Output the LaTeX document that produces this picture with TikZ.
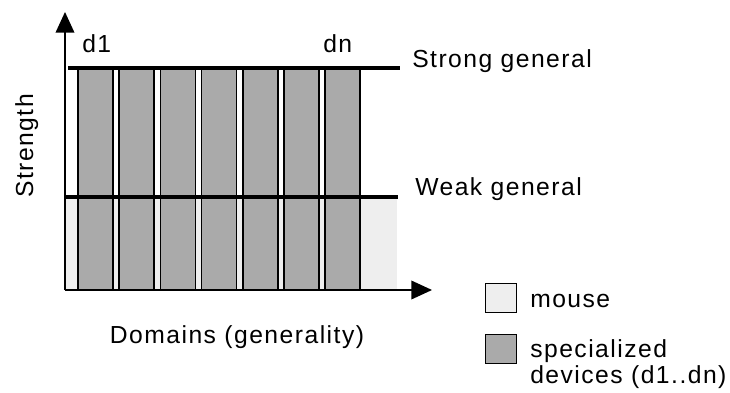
\documentclass[tikz,border=0pt]{standalone}
\usepackage{fontspec}
\setmainfont{Liberation Sans}[LetterSpace=6]
\usetikzlibrary{arrows.meta}
\definecolor{mouseC}{HTML}{EEEEEE}
\definecolor{devC}{HTML}{AAAAAA}
\tikzset{
  lbl/.style={inner sep=0pt, font=\fontsize{18.5pt}{22pt}\selectfont},
  axisline/.style={line width=1.1pt, -{Triangle[length=15.5pt,width=14pt]}},
  genline/.style={line width=2.3pt},
  devbar/.style={fill=devC, draw=black, line width=1.1pt},
  mousefill/.style={fill=mouseC, draw=none},
  legbox/.style={draw=black, line width=1.1pt, minimum width=23pt, minimum height=21.5pt, inner sep=0pt}
}
\begin{document}
\begin{tikzpicture}[x=0.75pt,y=-0.75pt]
\useasboundingbox (0,0) rectangle (730,392);
% mouse region
\fill[mousefill] (65,197) rectangle (397,290);
% device bars
\foreach \i in {0,...,6} {
  \draw[devbar] ({78+41.2*\i},68) rectangle ({113+41.2*\i},290);
}
% general lines
\coordinate (sg0) at (68,68);
\coordinate (sg1) at (400,68);
\coordinate (wg0) at (65,197);
\coordinate (wg1) at (398,197);
\draw[genline] (sg0) -- (sg1);
\draw[genline] (wg0) -- (wg1);
% axes
\coordinate (O) at (65,290);
\coordinate (ytip) at (65,12);
\coordinate (xtip) at (432,290);
\draw[axisline] (O) -- (ytip);
\draw[axisline] (O) -- (xtip);
% labels
\node[lbl, anchor=base west] (d1) at (82,53) {d1};
\node[lbl, anchor=base west] (dn) at (323,53) {dn};
\node[lbl, anchor=base west] (strong) at (412,68) {Strong general};
\node[lbl, anchor=base west] (weak) at (415,195) {Weak general};
\node[lbl, anchor=base] (domains) at (237,343) {Domains (generality)};
\node[lbl, anchor=base, rotate=90] (strength) at (33,146) {Strength};
% legend
\node[legbox, fill=mouseC] (lm) at (501,298) {};
\node[legbox, fill=devC] (ld) at (501,349) {};
\node[lbl, anchor=base west] (tm) at (530,307) {mouse};
\node[lbl, anchor=base west, align=left] (td) at (530,357) {specialized};
\node[lbl, anchor=base west] (td2) at (530,383) {devices (d1..dn)};
\end{tikzpicture}
\end{document}
